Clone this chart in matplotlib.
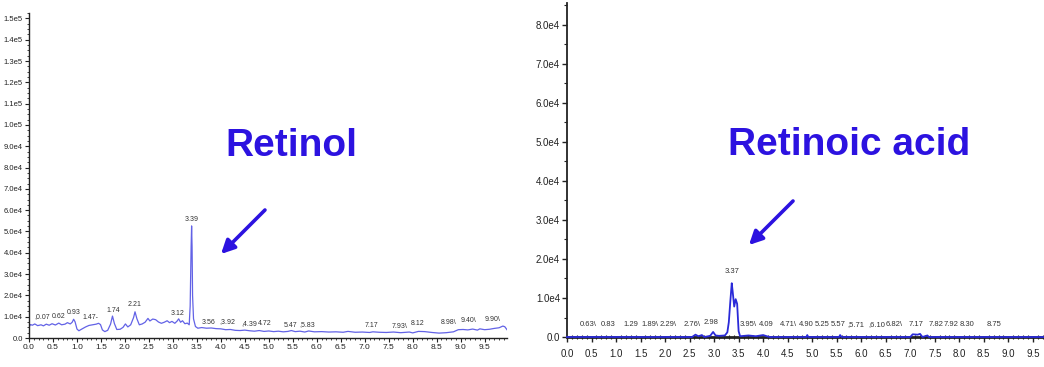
import matplotlib
matplotlib.use("Agg")
import matplotlib.pyplot as plt
from matplotlib.ticker import FixedLocator, MultipleLocator

# retinol trace (time in min, intensity)
retinol_t = [0.00, 0.03, 0.07, 0.12, 0.18, 0.25, 0.30, 0.36, 0.42, 0.48, 0.55, 0.62, 0.68, 0.75,
             0.80, 0.86, 0.90, 0.93, 0.96, 1.00, 1.04, 1.10, 1.18, 1.25, 1.32, 1.40, 1.45, 1.49,
             1.53, 1.58, 1.64, 1.70, 1.74, 1.78, 1.83, 1.90, 1.96, 2.01, 2.06, 2.12, 2.18, 2.21,
             2.25, 2.30, 2.36, 2.42, 2.48, 2.52, 2.58, 2.64, 2.70, 2.76, 2.82, 2.88, 2.93, 2.98,
             3.04, 3.09, 3.12, 3.16, 3.20, 3.25, 3.30, 3.34, 3.36, 3.38, 3.39, 3.40, 3.41, 3.43,
             3.47, 3.52, 3.60, 3.70, 3.80, 3.90, 4.00, 4.10, 4.20, 4.30, 4.40, 4.50, 4.60, 4.70,
             4.80, 4.90, 5.00, 5.10, 5.20, 5.30, 5.40, 5.47, 5.55, 5.65, 5.75, 5.83, 5.95, 6.10,
             6.25, 6.40, 6.55, 6.65, 6.80, 6.95, 7.10, 7.17, 7.30, 7.45, 7.60, 7.75, 7.93, 8.00,
             8.12, 8.25, 8.40, 8.55, 8.70, 8.85, 8.95, 9.05, 9.15, 9.25, 9.35, 9.40, 9.50, 9.60,
             9.70, 9.80, 9.88, 9.92, 9.97]
retinol_i = [5200, 6300, 6000, 6600, 5800, 6200, 5700, 6500, 6000, 6700, 6100, 7000, 6200, 6500,
             7200, 6600, 7400, 8800, 7600, 4200, 3400, 4200, 5200, 5900, 6200, 6500, 6900, 6300,
             3800, 3000, 3600, 6500, 10300, 6800, 4000, 4100, 5000, 6600, 5200, 6200, 9600, 12300,
             9000, 6200, 6600, 7400, 9200, 8000, 8900, 8600, 7500, 6900, 7400, 8100, 7200, 7800,
             6900, 8000, 9000, 7400, 8100, 6700, 7000, 6200, 15000, 43000, 52600, 42500, 20000, 9000,
             5400, 4600, 4900, 4600, 4700, 4400, 4300, 3900, 4000, 3600, 3500, 3700, 3400, 3200,
             3500, 3100, 3300, 3000, 3200, 2900, 3100, 3500, 3000, 3200, 2800, 3300, 2900, 3000,
             2800, 2900, 2700, 3100, 2700, 2800, 2600, 2900, 2700, 2600, 2800, 2500, 2800, 2400,
             3100, 3000, 2600, 2300, 2500, 2900, 3900, 4000, 3800, 4200, 3700, 4300, 3900, 4100,
             4500, 4800, 5600, 5300, 3800]

# retinoic acid trace
acid_t = [0.00, 2.55, 2.62, 2.68, 2.75, 2.80, 2.92, 2.98, 3.03, 3.10, 3.22, 3.27, 3.30, 3.33,
          3.36, 3.38, 3.41, 3.44, 3.47, 3.50, 3.53, 3.70, 3.85, 4.00, 4.10, 4.15, 4.88, 4.90,
          4.92, 5.55, 5.57, 5.60, 7.00, 7.05, 7.15, 7.20, 7.25, 7.35, 7.38, 9.73]
acid_i = [0, 0, 600, 200, 500, 0, 300, 1300, 400, 300, 400, 1200, 3800, 9000,
          13800, 11500, 7800, 9700, 8500, 1500, 200, 400, 200, 500, 100, 0, 0, 500,
          0, 0, 500, 0, 0, 700, 600, 800, 0, 400, 0, 0]

# peak labels: text, x, y
retinol_lbl = [",0.07", "0.62", "0.93", "1.47-", "1.74", "2.21", "3.12", "3.39", "3.56", ",3.92",
               ",4.39", "4.72", "5.47", ",5.83", "7.17", "7.93\\", "8.12", "8.98\\", "9.40\\", "9.90\\"]
retinol_lbl_x = [0.27, 0.62, 0.94, 1.29, 1.75, 2.21, 3.10, 3.40, 3.75, 4.13,
                 4.60, 4.92, 5.46, 5.81, 7.15, 7.73, 8.10, 8.75, 9.17, 9.67]
retinol_lbl_y = [9900, 9900, 12200, 9400, 13100, 15500, 11700, 55400, 7500, 7500,
                 6600, 6600, 6100, 6100, 6100, 5600, 6600, 7500, 8000, 8900]

acid_lbl = ["0.63\\", "0.83", "1.29", "1.89\\", "2.29\\", "2.76\\", "2.98", "3.37", "3.95\\", "4.09",
            "4.71\\", "4.90", "5.25", "5.57", ",5.71", ",6.10", "6.82\\", "7.17", "7.82", "7.92",
            "8.30", "8.75"]
acid_lbl_x = [0.43, 0.84, 1.31, 1.69, 2.06, 2.55, 2.94, 3.37, 3.69, 4.06,
              4.51, 4.88, 5.20, 5.53, 5.90, 6.31, 6.67, 7.12, 7.53, 7.84,
              8.16, 8.71]
acid_lbl_y = [3100, 3100, 3100, 3100, 3100, 3100, 3800, 16900, 3100, 3100,
              3100, 3100, 3100, 3100, 3100, 3100, 3100, 3100, 3100, 3100,
              3100, 3100]

x_ticks = [i * 0.5 for i in range(20)]
x_tick_labels = ["0.0", "0.5", "1.0", "1.5", "2.0", "2.5", "3.0", "3.5", "4.0", "4.5",
                 "5.0", "5.5", "6.0", "6.5", "7.0", "7.5", "8.0", "8.5", "9.0", "9.5"]
retinol_y_ticks = [i * 1e4 for i in range(16)]
retinol_y_labels = ["0.0", "1.0e4", "2.0e4", "3.0e4", "4.0e4", "5.0e4", "6.0e4", "7.0e4",
                    "8.0e4", "9.0e4", "1.0e5", "1.1e5", "1.2e5", "1.3e5", "1.4e5", "1.5e5"]
acid_y_ticks = [i * 1e4 for i in range(9)]
acid_y_labels = ["0.0", "1.0e4", "2.0e4", "3.0e4", "4.0e4", "5.0e4", "6.0e4", "7.0e4", "8.0e4"]

BLUE = "#2c12e0"
plt.rcParams["font.family"] = ["Liberation Sans", "DejaVu Sans"]

fig = plt.figure(figsize=(10.44, 3.67), dpi=100)

ax1 = fig.add_axes([0.0278, 0.079, 0.458, 0.886])
ax1.plot(retinol_t, retinol_i, color="#6262e6", lw=0.9)
ax1.set_xlim(0, 9.97)
ax1.set_ylim(0, 1.526e5)
ax1.xaxis.set_major_locator(FixedLocator(x_ticks))
ax1.set_xticklabels(x_tick_labels, fontsize=6)
ax1.xaxis.set_minor_locator(MultipleLocator(0.1))
ax1.yaxis.set_major_locator(FixedLocator(retinol_y_ticks))
ax1.set_yticklabels(retinol_y_labels, fontsize=5.5)
ax1.yaxis.set_minor_locator(MultipleLocator(2500))
ax1.tick_params(axis="both", which="major", length=3, width=0.8, pad=1.5, colors="#222222")
ax1.tick_params(axis="both", which="minor", length=1.5, width=0.6, colors="#222222")
for lbl, x, y in zip(retinol_lbl, retinol_lbl_x, retinol_lbl_y):
    ax1.text(x, y, lbl, fontsize=5, ha="center", va="center", color="#333333")

ax2 = fig.add_axes([0.5431, 0.0817, 0.457, 0.910])
ax2.plot(acid_t, acid_i, color="#2a2ad8", lw=1.3, zorder=3, clip_on=False)
ax2.set_xlim(0, 9.73)
ax2.set_ylim(0, 8.56e4)
ax2.xaxis.set_major_locator(FixedLocator(x_ticks))
ax2.set_xticklabels(x_tick_labels, fontsize=7)
ax2.xaxis.set_minor_locator(MultipleLocator(0.1))
ax2.yaxis.set_major_locator(FixedLocator(acid_y_ticks))
ax2.set_yticklabels(acid_y_labels, fontsize=7)
ax2.yaxis.set_minor_locator(MultipleLocator(5000))
ax2.tick_params(axis="both", which="major", length=3.5, width=1.0, colors="#222222")
ax2.tick_params(axis="x", which="major", pad=5)
ax2.tick_params(axis="y", which="major", pad=1.5)
ax2.tick_params(axis="x", which="minor", length=2.5, width=0.8, direction="inout", colors="#222222")
ax2.tick_params(axis="y", which="minor", length=2, width=0.8, colors="#222222")
for lbl, x, y in zip(acid_lbl, acid_lbl_x, acid_lbl_y):
    ax2.text(x, y, lbl, fontsize=5.5, ha="center", va="center", color="#333333")

for ax, lw_x, lw_y in [(ax1, 1.0, 1.0), (ax2, 2.0, 1.3)]:
    ax.spines["top"].set_visible(False)
    ax.spines["right"].set_visible(False)
    ax.spines["bottom"].set_linewidth(lw_x)
    ax.spines["left"].set_linewidth(lw_y)
    ax.spines["bottom"].set_color("#222222")
    ax.spines["left"].set_color("#222222")
    ax.patch.set_alpha(0)

fig.text(0.2787, 0.602, "Retinol", fontsize=28, fontweight="bold", color=BLUE,
         ha="center", va="center")
fig.text(0.8132, 0.605, "Retinoic acid", fontsize=28, fontweight="bold", color=BLUE,
         ha="center", va="center")

arrow = dict(arrowstyle="-|>", lw=2.6, mutation_scale=20, color=BLUE, shrinkA=0, shrinkB=0)
ax1.annotate("", xy=(0.2117, 0.3079), xytext=(0.2538, 0.4278),
             xycoords="figure fraction", textcoords="figure fraction", arrowprops=arrow)
ax2.annotate("", xy=(0.7174, 0.3324), xytext=(0.7596, 0.4523),
             xycoords="figure fraction", textcoords="figure fraction", arrowprops=arrow)

fig.savefig("out.png", dpi=100)
